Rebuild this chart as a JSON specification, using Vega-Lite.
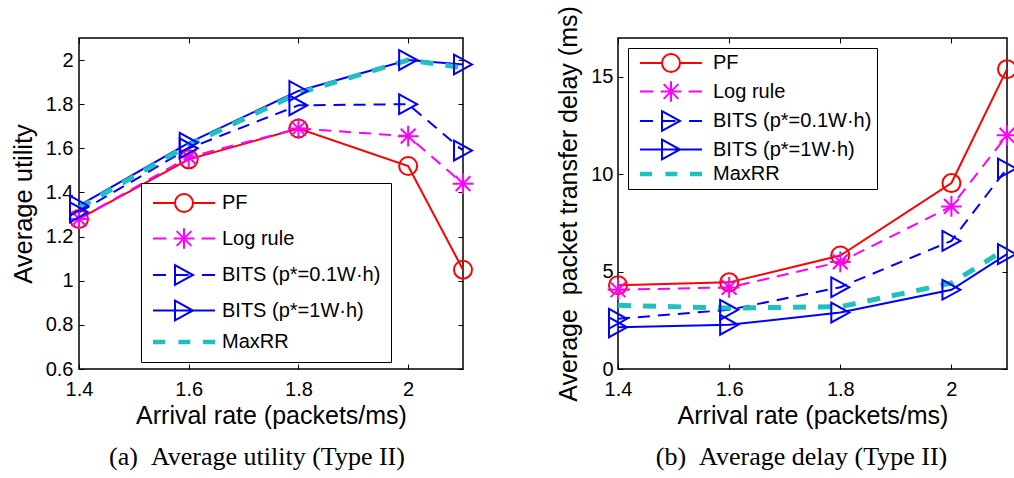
{
  "$schema": "https://vega.github.io/schema/vega-lite/v6.json",
  "background": "white",
  "padding": {"left": 10, "top": 4, "right": 0, "bottom": 0},
  "bounds": "flush",
  "spacing": 155,
  "data": {
    "values": [
      {"rate": 1.4, "series": "PF", "utility": 1.28, "delay": 4.3},
      {"rate": 1.6, "series": "PF", "utility": 1.55, "delay": 4.45},
      {"rate": 1.8, "series": "PF", "utility": 1.69, "delay": 5.83},
      {"rate": 2.0, "series": "PF", "utility": 1.52, "delay": 9.55},
      {"rate": 2.1, "series": "PF", "utility": 1.05, "delay": 15.4},
      {"rate": 1.4, "series": "Log rule", "utility": 1.28, "delay": 4.07},
      {"rate": 1.6, "series": "Log rule", "utility": 1.56, "delay": 4.19},
      {"rate": 1.8, "series": "Log rule", "utility": 1.69, "delay": 5.5},
      {"rate": 2.0, "series": "Log rule", "utility": 1.655, "delay": 8.35},
      {"rate": 2.1, "series": "Log rule", "utility": 1.44, "delay": 12.0},
      {"rate": 1.4, "series": "BITS (p*=0.1W·h)", "utility": 1.31, "delay": 2.58},
      {"rate": 1.6, "series": "BITS (p*=0.1W·h)", "utility": 1.60, "delay": 3.04},
      {"rate": 1.8, "series": "BITS (p*=0.1W·h)", "utility": 1.795, "delay": 4.2},
      {"rate": 2.0, "series": "BITS (p*=0.1W·h)", "utility": 1.80, "delay": 6.58},
      {"rate": 2.1, "series": "BITS (p*=0.1W·h)", "utility": 1.59, "delay": 10.3},
      {"rate": 1.4, "series": "BITS (p*=1W·h)", "utility": 1.34, "delay": 2.14},
      {"rate": 1.6, "series": "BITS (p*=1W·h)", "utility": 1.625, "delay": 2.27},
      {"rate": 1.8, "series": "BITS (p*=1W·h)", "utility": 1.86, "delay": 2.9},
      {"rate": 2.0, "series": "BITS (p*=1W·h)", "utility": 2.0, "delay": 4.07},
      {"rate": 2.1, "series": "BITS (p*=1W·h)", "utility": 1.98, "delay": 5.9},
      {"rate": 1.4, "series": "MaxRR", "utility": 1.33, "delay": 3.27},
      {"rate": 1.6, "series": "MaxRR", "utility": 1.615, "delay": 3.13},
      {"rate": 1.8, "series": "MaxRR", "utility": 1.85, "delay": 3.2},
      {"rate": 2.0, "series": "MaxRR", "utility": 2.0, "delay": 4.41},
      {"rate": 2.1, "series": "MaxRR", "utility": 1.965, "delay": 6.2}
    ]
  },
  "hconcat": [
    {
      "width": 384,
      "height": 331,
      "title": {"text": "(a)\u2002Average utility (Type II)", "orient": "bottom", "offset": 16, "dx": -14},
      "layer": [
        {
          "transform": [{"filter": "false"}],
          "mark": {"type": "point", "size": 324, "filled": false, "strokeWidth": 2, "opacity": 1},
          "encoding": {
            "x": {"field": "rate", "type": "quantitative", "axis": null},
            "y": {"field": "utility", "type": "quantitative", "axis": null},
            "color": {"field": "series", "type": "nominal",
                      "scale": {"domain": ["PF", "Log rule", "BITS (p*=0.1W·h)", "BITS (p*=1W·h)", "MaxRR"], "range": ["#FF0000", "#FF00FF", "#0000FF", "#0000FF", "#20C0C0"]},
                      "legend": {"title": null, "orient": "none", "legendX": 62, "legendY": 145, "padding": 10, "rowPadding": 7.5, "symbolOffset": 23, "labelOffset": 28, "symbolSize": 324, "symbolStrokeWidth": 2, "strokeColor": "black", "fillColor": "white"}},
            "shape": {"field": "series", "type": "nominal",
                      "scale": {"domain": ["PF", "Log rule", "BITS (p*=0.1W·h)", "BITS (p*=1W·h)", "MaxRR"],
                                "range": [
                                  "M-3.45,0H-1M1,0H3.45M1,0A1,1,0,1,1,-1,0A1,1,0,1,1,1,0Z",
                                  "M-3.45,0H-1.95M1.95,0H3.45M-1.15,0H1.15M0,-1.15V1.15M-0.82,-0.82L0.82,0.82M-0.82,0.82L0.82,-0.82",
                                  "M-3.45,0H-2M2,0H3.45M-1,0H0.5M-1,-1.1L1,0L-1,1.1Z",
                                  "M-3.45,0H3.45M-1,-1.1L1,0L-1,1.1Z",
                                  "M-3.45,-0.15H-2.1M-3.45,0H-2.1M-3.45,0.15H-2.1M-0.62,-0.15H0.7M-0.62,0H0.7M-0.62,0.15H0.7M2.1,-0.15H3.45M2.1,0H3.45M2.1,0.15H3.45"
                                ]},
                      "legend": {"title": null, "orient": "none", "legendX": 62, "legendY": 145, "padding": 10, "rowPadding": 7.5, "symbolOffset": 23, "labelOffset": 28, "symbolSize": 324, "symbolStrokeWidth": 2, "strokeColor": "black", "fillColor": "white"}}
          }
        },
        {
          "transform": [{"filter": "datum.series === 'PF' || datum.series === 'BITS (p*=1W·h)'"}],
          "mark": {"type": "line", "strokeWidth": 2},
          "encoding": {
            "x": {"field": "rate", "type": "quantitative", "scale": {"domain": [1.4, 2.1], "nice": false, "zero": false},
                  "axis": {"orient": "bottom", "values": [1.4, 1.6, 1.8, 2], "format": "~g", "title": "Arrival rate (packets/ms)", "labelPadding": 15, "titlePadding": 4}},
            "y": {"field": "utility", "type": "quantitative", "scale": {"domain": [0.6, 2.1], "nice": false, "zero": false},
                  "axis": {"orient": "left", "values": [0.6, 0.8, 1, 1.2, 1.4, 1.6, 1.8, 2], "format": "~g", "title": "Average utility", "titleFontSize": 25.5, "labelPadding": 11, "titlePadding": 9}},
            "color": {"field": "series", "type": "nominal", "legend": null}
          }
        },
        {
          "transform": [{"filter": "datum.series === 'Log rule' || datum.series === 'BITS (p*=0.1W·h)'"}],
          "mark": {"type": "line", "strokeWidth": 2, "strokeDash": [12, 8]},
          "encoding": {
            "x": {"field": "rate", "type": "quantitative", "axis": null},
            "y": {"field": "utility", "type": "quantitative", "axis": null},
            "color": {"field": "series", "type": "nominal", "legend": null}
          }
        },
        {
          "transform": [{"filter": "datum.series === 'MaxRR'"}],
          "mark": {"type": "line", "strokeWidth": 5, "strokeDash": [13, 12]},
          "encoding": {
            "x": {"field": "rate", "type": "quantitative", "axis": {"orient": "top", "values": [1.4, 1.6, 1.8, 2], "labels": false, "title": null}},
            "y": {"field": "utility", "type": "quantitative", "axis": {"orient": "right", "values": [0.6, 0.8, 1, 1.2, 1.4, 1.6, 1.8, 2], "labels": false, "title": null}},
            "color": {"field": "series", "type": "nominal", "legend": null}
          }
        },
        {
          "transform": [{"filter": "datum.series === 'PF'"}],
          "mark": {"type": "point", "shape": "circle", "size": 324, "filled": false, "strokeWidth": 2, "opacity": 1},
          "encoding": {
            "x": {"field": "rate", "type": "quantitative", "axis": null},
            "y": {"field": "utility", "type": "quantitative", "axis": null},
            "color": {"field": "series", "type": "nominal", "legend": null}
          }
        },
        {
          "transform": [{"filter": "datum.series === 'Log rule'"}],
          "mark": {"type": "point", "shape": "M-1.15,0H1.15M0,-1.15V1.15M-0.82,-0.82L0.82,0.82M-0.82,0.82L0.82,-0.82", "size": 324, "filled": false, "strokeWidth": 2, "opacity": 1},
          "encoding": {
            "x": {"field": "rate", "type": "quantitative", "axis": null},
            "y": {"field": "utility", "type": "quantitative", "axis": null},
            "color": {"field": "series", "type": "nominal", "legend": null}
          }
        },
        {
          "transform": [{"filter": "datum.series === 'BITS (p*=0.1W·h)' || datum.series === 'BITS (p*=1W·h)'"}],
          "mark": {"type": "point", "shape": "M-1,-1.1L1,0L-1,1.1Z", "size": 324, "filled": false, "strokeWidth": 2, "opacity": 1},
          "encoding": {
            "x": {"field": "rate", "type": "quantitative", "axis": null},
            "y": {"field": "utility", "type": "quantitative", "axis": null},
            "color": {"field": "series", "type": "nominal", "legend": null}
          }
        }
      ]
    },
    {
      "width": 389,
      "height": 331,
      "title": {"text": "(b)\u2002Average delay (Type II)", "orient": "bottom", "offset": 16, "dx": -11},
      "layer": [
        {
          "transform": [{"filter": "false"}],
          "mark": {"type": "point", "size": 324, "filled": false, "strokeWidth": 2, "opacity": 1},
          "encoding": {
            "x": {"field": "rate", "type": "quantitative", "axis": null},
            "y": {"field": "delay", "type": "quantitative", "axis": null},
            "color": {"field": "series", "type": "nominal",
                      "scale": {"domain": ["PF", "Log rule", "BITS (p*=0.1W·h)", "BITS (p*=1W·h)", "MaxRR"], "range": ["#FF0000", "#FF00FF", "#0000FF", "#0000FF", "#20C0C0"]},
                      "legend": {"title": null, "orient": "none", "legendX": 10, "legendY": 10, "padding": 5, "rowPadding": 0.5, "symbolOffset": 28, "labelOffset": 32, "symbolSize": 324, "symbolStrokeWidth": 2, "strokeColor": "black", "fillColor": "white"}},
            "shape": {"field": "series", "type": "nominal",
                      "scale": {"domain": ["PF", "Log rule", "BITS (p*=0.1W·h)", "BITS (p*=1W·h)", "MaxRR"],
                                "range": [
                                  "M-3.45,0H-1M1,0H3.45M1,0A1,1,0,1,1,-1,0A1,1,0,1,1,1,0Z",
                                  "M-3.45,0H-1.95M1.95,0H3.45M-1.15,0H1.15M0,-1.15V1.15M-0.82,-0.82L0.82,0.82M-0.82,0.82L0.82,-0.82",
                                  "M-3.45,0H-2M2,0H3.45M-1,0H0.5M-1,-1.1L1,0L-1,1.1Z",
                                  "M-3.45,0H3.45M-1,-1.1L1,0L-1,1.1Z",
                                  "M-3.45,-0.15H-2.1M-3.45,0H-2.1M-3.45,0.15H-2.1M-0.62,-0.15H0.7M-0.62,0H0.7M-0.62,0.15H0.7M2.1,-0.15H3.45M2.1,0H3.45M2.1,0.15H3.45"
                                ]},
                      "legend": {"title": null, "orient": "none", "legendX": 10, "legendY": 10, "padding": 5, "rowPadding": 0.5, "symbolOffset": 28, "labelOffset": 32, "symbolSize": 324, "symbolStrokeWidth": 2, "strokeColor": "black", "fillColor": "white"}}
          }
        },
        {
          "transform": [{"filter": "datum.series === 'PF' || datum.series === 'BITS (p*=1W·h)'"}],
          "mark": {"type": "line", "strokeWidth": 2},
          "encoding": {
            "x": {"field": "rate", "type": "quantitative", "scale": {"domain": [1.4, 2.1], "nice": false, "zero": false},
                  "axis": {"orient": "bottom", "values": [1.4, 1.6, 1.8, 2], "format": "~g", "title": "Arrival rate (packets/ms)", "labelPadding": 15, "titlePadding": 4}},
            "y": {"field": "delay", "type": "quantitative", "scale": {"domain": [0, 17], "nice": false, "zero": false},
                  "axis": {"orient": "left", "values": [0, 5, 10, 15], "format": "~g", "title": "Average\u00a0\u00a0packet transfer delay (ms)", "titleFontSize": 25, "labelPadding": 10, "titlePadding": 9}},
            "color": {"field": "series", "type": "nominal", "legend": null}
          }
        },
        {
          "transform": [{"filter": "datum.series === 'Log rule' || datum.series === 'BITS (p*=0.1W·h)'"}],
          "mark": {"type": "line", "strokeWidth": 2, "strokeDash": [12, 8]},
          "encoding": {
            "x": {"field": "rate", "type": "quantitative", "axis": null},
            "y": {"field": "delay", "type": "quantitative", "axis": null},
            "color": {"field": "series", "type": "nominal", "legend": null}
          }
        },
        {
          "transform": [{"filter": "datum.series === 'MaxRR'"}],
          "mark": {"type": "line", "strokeWidth": 5, "strokeDash": [13, 12]},
          "encoding": {
            "x": {"field": "rate", "type": "quantitative", "axis": {"orient": "top", "values": [1.4, 1.6, 1.8, 2], "labels": false, "title": null}},
            "y": {"field": "delay", "type": "quantitative", "axis": {"orient": "right", "values": [0, 5, 10, 15], "labels": false, "title": null}},
            "color": {"field": "series", "type": "nominal", "legend": null}
          }
        },
        {
          "transform": [{"filter": "datum.series === 'PF'"}],
          "mark": {"type": "point", "shape": "circle", "size": 324, "filled": false, "strokeWidth": 2, "opacity": 1},
          "encoding": {
            "x": {"field": "rate", "type": "quantitative", "axis": null},
            "y": {"field": "delay", "type": "quantitative", "axis": null},
            "color": {"field": "series", "type": "nominal", "legend": null}
          }
        },
        {
          "transform": [{"filter": "datum.series === 'Log rule'"}],
          "mark": {"type": "point", "shape": "M-1.15,0H1.15M0,-1.15V1.15M-0.82,-0.82L0.82,0.82M-0.82,0.82L0.82,-0.82", "size": 324, "filled": false, "strokeWidth": 2, "opacity": 1},
          "encoding": {
            "x": {"field": "rate", "type": "quantitative", "axis": null},
            "y": {"field": "delay", "type": "quantitative", "axis": null},
            "color": {"field": "series", "type": "nominal", "legend": null}
          }
        },
        {
          "transform": [{"filter": "datum.series === 'BITS (p*=0.1W·h)' || datum.series === 'BITS (p*=1W·h)'"}],
          "mark": {"type": "point", "shape": "M-1,-1.1L1,0L-1,1.1Z", "size": 324, "filled": false, "strokeWidth": 2, "opacity": 1},
          "encoding": {
            "x": {"field": "rate", "type": "quantitative", "axis": null},
            "y": {"field": "delay", "type": "quantitative", "axis": null},
            "color": {"field": "series", "type": "nominal", "legend": null}
          }
        }
      ]
    }
  ],
  "resolve": {"scale": {"color": "independent", "shape": "independent"}},
  "config": {
    "view": {"stroke": "black", "strokeWidth": 1.5},
    "axis": {
      "labelFont": "Liberation Sans", "labelFontSize": 20, "labelColor": "black", "labelFlush": false,
      "titleFont": "Liberation Sans", "titleFontSize": 25, "titleFontWeight": "normal", "titleColor": "black",
      "tickColor": "black", "tickSize": -5, "tickWidth": 1, "domain": false, "grid": false
    },
    "legend": {
      "labelFont": "Liberation Sans", "labelFontSize": 20, "labelColor": "black", "labelLimit": 400
    },
    "title": {"font": "Liberation Serif", "fontSize": 26, "fontWeight": "normal", "color": "black"}
  }
}
